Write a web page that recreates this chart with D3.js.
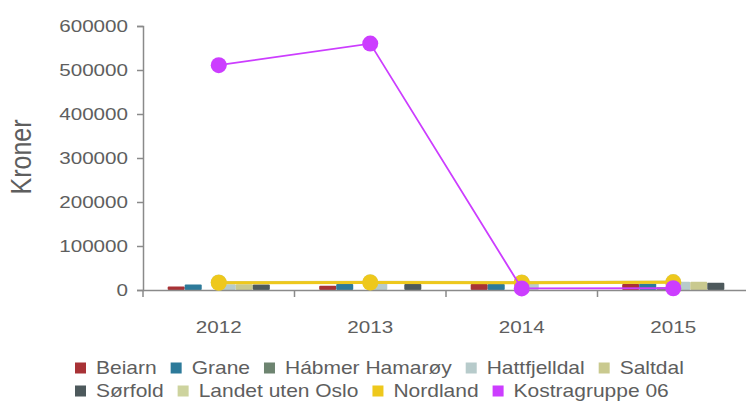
<!DOCTYPE html>
<html>
<head>
<meta charset="utf-8">
<script src="https://cdn.jsdelivr.net/npm/d3@7"></script>
<style>
  html, body { margin: 0; padding: 0; background: #fff; }
  svg { display: block; font-family: "Liberation Sans", Arial, sans-serif; }
</style>
</head>
<body>
<svg id="chart" width="746" height="401"></svg>
<script>
// Categories
const years = ["2012", "2013", "2014", "2015"];

// Bar series (kroner per year; null = no value)
const barNames = ["Beiarn", "Grane", "Hábmer Hamarøy", "Hattfjelldal", "Saltdal", "Sørfold"];
const beiarn      = [8000, 9500, 13500, 13500];
const grane       = [12500, 13500, 13500, 15000];
const habmer      = [null, null, null, 6000];
const hattfjelldal = [13000, 20000, 19000, 19000];
const saltdal     = [13000, null, null, 19000];
const sorfold     = [12500, 13500, null, 16500];
const barValues = [beiarn, grane, habmer, hattfjelldal, saltdal, sorfold];

// Line series
const lineNames = ["Landet uten Oslo", "Nordland", "Kostragruppe 06"];
const landet    = [17000, 17500, 17000, 18000];
const nordland  = [16500, 17000, 16500, 17500];
const kostra    = [511000, 560000, 3500, 4000];
const lineValues = [landet, nordland, kostra];

// Axis ticks
const yTicks = [0, 100000, 200000, 300000, 400000, 500000, 600000];
const yTitle = "Kroner";

const barColors  = ["#a83236", "#2d7a9a", "#6d8470", "#b7cbcb", "#c9c98f", "#4d595c"];
const lineColors = ["#cdd39e", "#eec81c", "#cc3dff"];

const svg = d3.select("#chart");
const textColor = "#5e5e5e";
const axisColor = "#8a8a8a";

const x = d3.scaleBand().domain(years).range([143, 749]);
const xInner = d3.scaleBand().domain(barNames).range([0, x.bandwidth()]).paddingOuter(1.45).paddingInner(0);
const y = d3.scaleLinear().domain([0, 600000]).range([290, 26]);

// Horizontal text stretch used throughout
const stretch = 1.25;

// Bars
barNames.forEach((name, i) => {
  const vals = barValues[i];
  svg.append("g").selectAll("rect")
    .data(years.map((yr, j) => ({ yr, v: vals[j] })).filter(d => d.v != null))
    .join("rect")
    .attr("x", d => x(d.yr) + xInner(name))
    .attr("width", xInner.bandwidth())
    .attr("y", d => y(d.v))
    .attr("height", d => y(0) - y(d.v))
    .attr("rx", 1)
    .attr("fill", barColors[i]);
});

// Y axis
const yAxis = svg.append("g")
  .attr("transform", "translate(143,0)")
  .call(d3.axisLeft(y).tickValues(yTicks).tickFormat(d3.format("d")).tickSize(6).tickPadding(8));
yAxis.select(".domain").attr("stroke", axisColor).attr("stroke-width", 1.5);
yAxis.selectAll(".tick line").attr("stroke", axisColor).attr("stroke-width", 1.5);
yAxis.selectAll(".tick text")
  .attr("fill", textColor)
  .style("font-size", "16.5px")
  .attr("x", null)
  .attr("transform", `translate(-15,0) scale(${stretch},1)`)
  .attr("dy", "0.35em");

// X axis
const xAxis = svg.append("g")
  .attr("transform", "translate(0,290)")
  .call(d3.axisBottom(x).tickSize(0).tickPadding(0));
xAxis.select(".domain").attr("stroke", axisColor).attr("stroke-width", 1.5);
xAxis.selectAll(".tick text")
  .attr("fill", textColor)
  .style("font-size", "16.5px")
  .attr("y", 0)
  .attr("dy", 0)
  .attr("transform", `translate(0,43) scale(${stretch},1)`);
// Band separators
xAxis.append("g").selectAll("line")
  .data(years)
  .join("line")
  .attr("x1", d => x(d)).attr("x2", d => x(d))
  .attr("y1", 0).attr("y2", 7)
  .attr("stroke", axisColor).attr("stroke-width", 1.5);

// Y title
svg.append("text")
  .attr("transform", `translate(31,157) scale(1.15,1) rotate(-90)`)
  .attr("text-anchor", "middle")
  .attr("fill", textColor)
  .style("font-size", "25px")
  .text(yTitle);

// Lines with markers
const lineGen = d3.line()
  .defined(d => d.v != null)
  .x(d => x(d.yr) + x.bandwidth() / 2)
  .y(d => y(d.v));

lineNames.forEach((name, i) => {
  const pts = years.map((yr, j) => ({ yr, v: lineValues[i][j] }));
  const g = svg.append("g");
  g.append("path")
    .datum(pts)
    .attr("d", lineGen)
    .attr("fill", "none")
    .attr("stroke", lineColors[i])
    .attr("stroke-width", i === 2 ? 1.8 : 3);
  g.selectAll("circle")
    .data(pts.filter(d => d.v != null))
    .join("circle")
    .attr("cx", d => x(d.yr) + x.bandwidth() / 2)
    .attr("cy", d => y(d.v))
    .attr("r", 8)
    .attr("fill", lineColors[i]);
});

// Legend (flowing, wraps into rows)
const legendItems = barNames.map((n, i) => ({ name: n, color: barColors[i] }))
  .concat(lineNames.map((n, i) => ({ name: n, color: lineColors[i] })));
const legend = svg.append("g");
const legendStretch = 1.2;
let lx = 75, ly = 368;
const maxX = 725;
legendItems.forEach(item => {
  const g = legend.append("g");
  g.append("rect").attr("width", 11).attr("height", 11).attr("y", -5.5).attr("fill", item.color);
  const t = g.append("text")
    .attr("fill", textColor)
    .style("font-size", "17.5px")
    .attr("dy", "0.35em")
    .attr("transform", `translate(21,0) scale(${legendStretch},1)`)
    .text(item.name);
  const w = 21 + t.node().getComputedTextLength() * legendStretch;
  if (lx + w > maxX) { lx = 75; ly += 23; }
  g.attr("transform", `translate(${lx},${ly})`);
  lx += w + 14;
});
</script>
</body>
</html>
